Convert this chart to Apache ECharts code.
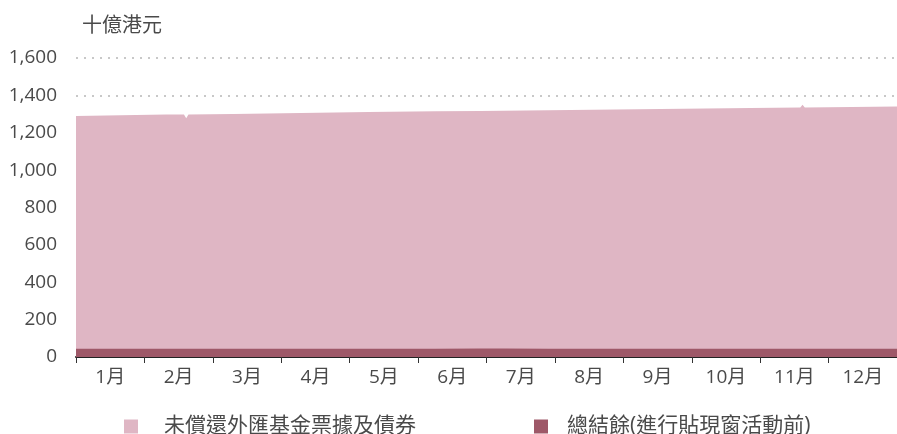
<!DOCTYPE html>
<html>
<head>
<meta charset="utf-8">
<script src="https://cdn.jsdelivr.net/npm/echarts@6/dist/echarts.min.js"></script>
<style>
  html, body { margin: 0; padding: 0; background: #fff; }
  #chart { width: 897px; height: 434px; }
</style>
</head>
<body>
<div id="chart"></div>
<script>
// 月份標籤
const months = ['1月', '2月', '3月', '4月', '5月', '6月', '7月', '8月', '9月', '10月', '11月', '12月'];
// 年內日數 (0-365)
const days = [0, 20, 40, 48, 49, 50, 70, 100, 130, 160, 180, 190, 210, 240, 270, 300, 322, 323, 324, 345, 365];
// 總結餘（進行貼現窗活動前）
const aggregateBalance = [44, 44, 44, 44, 44, 44, 44, 44, 44, 44, 45, 45, 44, 44, 44, 44, 44, 44, 44, 44, 44];
// 未償還外匯基金票據及債券
const efBills = [1246, 1250, 1253, 1254, 1234, 1254, 1257, 1262, 1267, 1271, 1272, 1273, 1277, 1281, 1285, 1288, 1291, 1306, 1291, 1294, 1297];
const yTicks = { min: 0, max: 1600, interval: 200 };

const font = "'Open Sans', 'Noto Sans CJK TC', sans-serif";
const txtColor = '#4a4a4a';
const nameBills = '未償還外匯基金票據及債券';
const nameAgg = '總結餘(進行貼現窗活動前)';

// 疊加：票據畫在總結餘之上
const stackedBills = efBills.map((v, i) => [days[i], v + aggregateBalance[i]]);
const aggPts = aggregateBalance.map((v, i) => [days[i], v]);

const legendStyle = (left, name, gap) => ({
  left: left,
  top: 411,
  icon: 'rect',
  itemWidth: 14,
  itemHeight: 14,
  textStyle: { fontFamily: font, fontSize: 21, color: txtColor, padding: [0, 0, 0, gap] },
  data: [name]
});

const chart = echarts.init(document.getElementById('chart'));
chart.setOption({
  animation: false,
  textStyle: { fontFamily: font },
  title: {
    text: '十億港元',
    left: 77,
    top: 11,
    textStyle: { fontFamily: font, fontSize: 20, fontWeight: 'normal', color: txtColor }
  },
  grid: { left: 76, right: 0, top: 58, bottom: 77 },
  legend: [legendStyle(119, nameBills, 21), legendStyle(529, nameAgg, 14)],
  xAxis: [
    {
      type: 'category',
      data: months,
      boundaryGap: true,
      axisLine: { lineStyle: { color: '#222', width: 2 } },
      axisTick: { show: true, length: 6, lineStyle: { color: '#333' } },
      axisLabel: { fontFamily: font, fontSize: 19, color: txtColor, margin: 11 },
      splitLine: { show: false }
    },
    { type: 'value', min: 0, max: 365, show: false }
  ],
  yAxis: {
    type: 'value',
    min: yTicks.min,
    max: yTicks.max,
    interval: yTicks.interval,
    axisLine: { show: false },
    axisTick: { show: false },
    axisLabel: {
      fontFamily: font, fontSize: 19, color: txtColor, margin: 19,
      padding: [4, 0, 0, 0],
      formatter: (v) => v.toLocaleString('en-US')
    },
    splitLine: { lineStyle: { type: [2, 6], color: '#c8c8c8', width: 2 } }
  },
  series: [
    {
      name: nameBills,
      type: 'line',
      xAxisIndex: 1,
      data: stackedBills,
      showSymbol: false,
      lineStyle: { width: 0 },
      itemStyle: { color: '#dfb6c4' },
      areaStyle: { color: '#dfb6c4', opacity: 1 },
      z: 2
    },
    {
      name: nameAgg,
      type: 'line',
      xAxisIndex: 1,
      data: aggPts,
      showSymbol: false,
      lineStyle: { width: 0 },
      itemStyle: { color: '#9e5868' },
      areaStyle: { color: '#9e5868', opacity: 1 },
      z: 3
    }
  ]
});
</script>
</body>
</html>
